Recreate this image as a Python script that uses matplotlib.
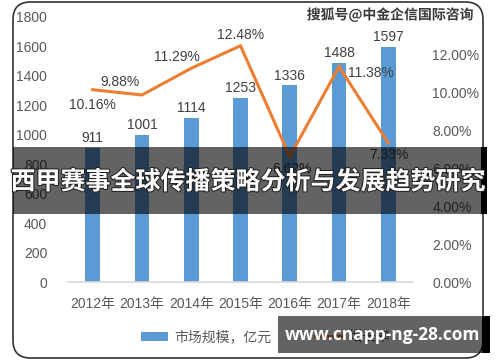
import matplotlib
matplotlib.use("Agg")
import matplotlib.pyplot as plt
from matplotlib.patches import Rectangle, FancyBboxPatch, Patch
from matplotlib.lines import Line2D
import matplotlib.patheffects as pe
from matplotlib.ticker import FuncFormatter

plt.rcParams['font.family'] = ['Liberation Sans', 'Noto Sans CJK SC', 'DejaVu Sans']

years = ["2012年", "2013年", "2014年", "2015年", "2016年", "2017年", "2018年"]
market = [911, 1001, 1114, 1253, 1336, 1488, 1597]
growth = [10.16, 9.88, 11.29, 12.48, 6.62, 11.38, 7.33]
left_ticks = [0, 200, 400, 600, 800, 1000, 1200, 1400, 1600, 1800]
right_ticks = [0, 2, 4, 6, 8, 10, 12]
legend_labels = ["市场规模，亿元", "增长率"]
title = "西甲赛事全球传播策略分析与发展趋势研究"
wm_top = "搜狐号@中金企信国际咨询"
wm_bottom = "www.cnapp-ng-28.com"

W, H = 500, 362
fig = plt.figure(figsize=(W / 100, H / 100), dpi=100)
fig.patch.set_facecolor("white")

def fx(px):
    return px / W

def fy(py):
    return 1 - py / H

ax = fig.add_axes([fx(68), fy(282), fx(413) - fx(68), fy(17) - fy(282)])
ax2 = ax.twinx()
ax.set_zorder(1)
ax2.set_zorder(2)

tc = "#595959"
x = list(range(len(years)))
bars = ax.bar(x, market, width=0.3, color="#5b9bd5")
ax.set_xlim(-0.5, len(years) - 0.5)
ax.set_ylim(0, 1800)
ax.set_yticks(left_ticks)
ax.set_xticks(x)
ax.set_xticklabels(years)
ax.tick_params(axis="y", length=0, pad=15, labelsize=10, labelcolor=tc)
ax.tick_params(axis="x", length=0, pad=11, labelsize=10, labelcolor=tc)
for s in ["top", "right", "left"]:
    ax.spines[s].set_visible(False)
ax.spines["bottom"].set_color("#d9d9d9")
ax.spines["bottom"].set_linewidth(1.2)

for xi, v in zip(x, market):
    ax.annotate(str(v), (xi, v), xytext=(0, 2), textcoords="offset points",
                ha="center", va="bottom", fontsize=10, color="#404040")

ax2.plot(x, growth, color="#ed7d31", linewidth=2.2, solid_joinstyle="miter")
ax2.set_ylim(0, 14)
ax2.set_yticks(right_ticks)
ax2.yaxis.set_major_formatter(FuncFormatter(lambda v, p: f"{v:.2f}%"))
ax2.tick_params(axis="y", length=0, pad=14, labelsize=10, labelcolor=tc)
for s in ["top", "right", "left", "bottom"]:
    ax2.spines[s].set_visible(False)

offsets = [(0, -15), (-22, 13), (-14, 11), (0, 11), (2, -12), (32, -6), (1, -12)]
for xi, v, (dx, dy) in zip(x, growth, offsets):
    ax2.annotate(f"{v:.2f}%", (xi, v), xytext=(dx * 0.72, dy * 0.72),
                 textcoords="offset points", ha="center", va="center",
                 fontsize=10, color="#404040")

handles = [Patch(facecolor="#5b9bd5"), Line2D([0], [0], color="#ed7d31", linewidth=2.2)]
leg = fig.legend(handles, legend_labels, loc="center left", bbox_to_anchor=(fx(128), fy(337)),
                 ncol=2, frameon=False, fontsize=10, labelcolor=tc,
                 handlelength=2.0, handleheight=0.6, columnspacing=3.2, handletextpad=0.4)
leg.set_zorder(2)

# rounded frame
frame = FancyBboxPatch((fx(13), fy(358)), fx(483) - fx(13), fy(2) - fy(358),
                       boxstyle="round,pad=0,rounding_size=0.035",
                       transform=fig.transFigure, facecolor="none",
                       edgecolor="#333333", linewidth=1.2, zorder=3,
                       mutation_aspect=W / H)
fig.add_artist(frame)

# top watermark
fig.text(fx(390), fy(15), wm_top, ha="center", va="center", fontsize=10,
         fontweight="bold", color="#3a3a3a", family=["Noto Sans CJK SC", "DejaVu Sans"],
         zorder=6, path_effects=[pe.withStroke(linewidth=2, foreground="white")])

# title banner
fig.add_artist(Rectangle((fx(13), fy(214)), fx(481) - fx(13), fy(147) - fy(214),
                         transform=fig.transFigure, facecolor="black", alpha=0.61,
                         edgecolor="none", zorder=5))
fig.add_artist(Rectangle((fx(481), fy(214)), fx(487) - fx(481), fy(147) - fy(214),
                         transform=fig.transFigure, facecolor="black",
                         edgecolor="none", zorder=5))
fig.text(fx(248), fy(182), title, ha="center", va="center", fontsize=18,
         fontweight="bold", color="white", family=["Noto Sans CJK SC", "DejaVu Sans"],
         zorder=6, path_effects=[pe.withStroke(linewidth=1.5, foreground="#222222")])

# bottom watermark
fig.add_artist(Rectangle((fx(278), fy(353)), fx(482) - fx(278), fy(316) - fy(353),
                         transform=fig.transFigure, facecolor="black", alpha=0.61,
                         edgecolor="none", zorder=5))
fig.add_artist(Rectangle((fx(482), fy(353)), fx(490) - fx(482), fy(316) - fy(353),
                         transform=fig.transFigure, facecolor="black",
                         edgecolor="none", zorder=5))
fig.text(fx(383), fy(335), wm_bottom, ha="center", va="center", fontsize=12.5,
         fontweight="bold", color="white", family=["Open Sans", "DejaVu Sans"], zorder=6)

fig.savefig("out.png", dpi=100)
